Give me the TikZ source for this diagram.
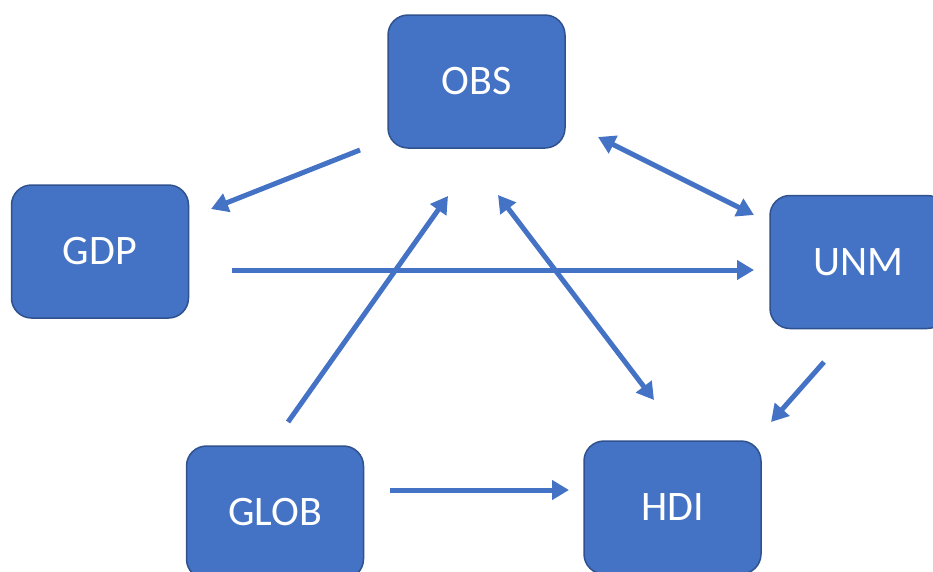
\documentclass[tikz,border=0pt]{standalone}
\usepackage{fontspec}
\setmainfont{Carlito}
\usetikzlibrary{arrows.meta}
\definecolor{boxfill}{HTML}{4472C4}
\definecolor{boxedge}{HTML}{2F528F}
\begin{document}
\begin{tikzpicture}[x=1pt,y=-1pt,
  varbox/.style={draw=boxedge, line width=1.5pt, fill=boxfill, rounded corners=20pt,
    minimum width=177pt, minimum height=133pt, inner sep=0pt,
    text=white, font=\fontsize{42}{50}\selectfont},
  link/.style={draw=boxfill, line width=5pt,
    -{Triangle[length=17pt,width=19pt]}},
  both/.style={link, {Triangle[length=17pt,width=19pt]}-{Triangle[length=17pt,width=19pt]}}]
\clip (0,0) rectangle (933,571);
\useasboundingbox (0,0) rectangle (933,571);
% variables
\node[varbox] (obs)  at (476.5,81.5)  {OBS};
\node[varbox] (gdp)  at (100,251.5)   {GDP};
\node[varbox] (unm)  at (858.5,262)   {UNM};
\node[varbox] (glob) at (275,512.5)   {GLOB};
\node[varbox] (hdi)  at (672.5,507.5) {HDI};
% arrow end points
\coordinate (obsL)   at (360,150);
\coordinate (gdpT)   at (211,209);
\coordinate (gdpR)   at (232,270);
\coordinate (unmL)   at (754,270);
\coordinate (obsR)   at (598,137);
\coordinate (unmTL)  at (754,215);
\coordinate (obsB)   at (498,195);
\coordinate (hdiT)   at (654,400);
\coordinate (globT)  at (288,422);
\coordinate (obsBL)  at (448,196);
\coordinate (unmB)   at (824,362);
\coordinate (hdiTR)  at (771,422);
\coordinate (globR)  at (390,490);
\coordinate (hdiL)   at (569,490);
% relations
\draw[link] (obsL) -- (gdpT);
\draw[link] (gdpR) -- (unmL);
\draw[both] (obsR) -- (unmTL);
\draw[both] (obsB) -- (hdiT);
\draw[link] (globT) -- (obsBL);
\draw[link] (unmB) -- (hdiTR);
\draw[link] (globR) -- (hdiL);
\end{tikzpicture}
\end{document}
